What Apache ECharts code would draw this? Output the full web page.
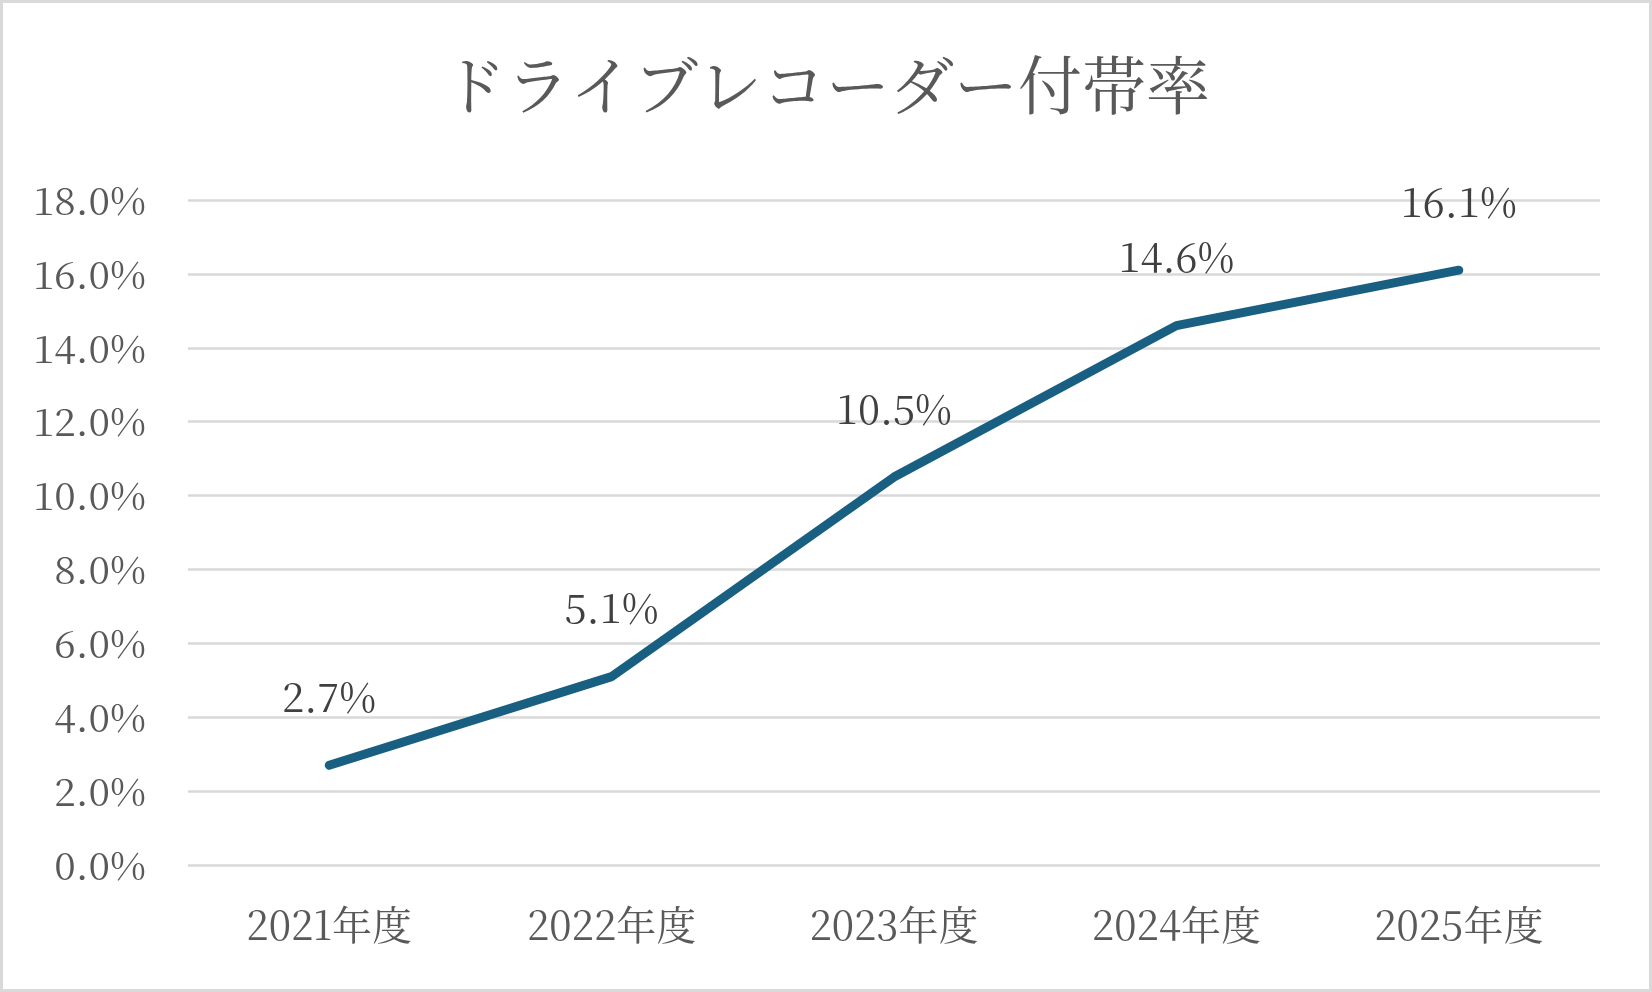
<!DOCTYPE html>
<html><head><meta charset="utf-8">
<script src="https://cdn.jsdelivr.net/npm/echarts@6/dist/echarts.min.js"></script>
<style>
html,body{margin:0;padding:0;background:#fff;}
#c{width:1652px;height:992px;box-sizing:border-box;border:3px solid #d9d9d9;}
</style></head>
<body><div id="c"></div>
<script>
const categories = ['2021年度','2022年度','2023年度','2024年度','2025年度'];
const values = [2.7, 5.1, 10.5, 14.6, 16.1];
const titleText = 'ドライブレコーダー付帯率';
const FONT = "'Noto Serif CJK JP','Liberation Serif','Noto Sans CJK JP',serif";
const chart = echarts.init(document.getElementById('c'));
chart.setOption({
  animation:false,
  title:{text:titleText,left:'center',top:45,textStyle:{fontFamily:FONT,fontSize:64,fontWeight:'normal',color:'#595959'}},
  grid:{left:185,right:49,top:197,bottom:124},
  xAxis:{type:'category',data:categories,boundaryGap:true,
    axisLine:{show:false},axisTick:{show:false},
    axisLabel:{fontFamily:FONT,fontSize:40,color:'#595959',margin:40}},
  yAxis:{type:'value',min:0,max:18,interval:2,
    axisLine:{show:false},axisTick:{show:false},
    axisLabel:{fontFamily:FONT,fontSize:39,color:'#595959',margin:42,padding:[0,0,7,0],formatter:v=>v.toFixed(1)+'%'},
    splitLine:{lineStyle:{color:'#d9d9d9',width:2.5}}},
  series:[{type:'line',data:values,showSymbol:true,symbol:'circle',symbolSize:1,
    itemStyle:{color:'#185f82'},
    lineStyle:{color:'#185f82',width:9,cap:'round',join:'round'},
    label:{show:true,position:'top',distance:48,fontFamily:FONT,fontSize:40,color:'#404040',formatter:p=>p.value.toFixed(1)+'%'}}]
});
</script></body></html>
